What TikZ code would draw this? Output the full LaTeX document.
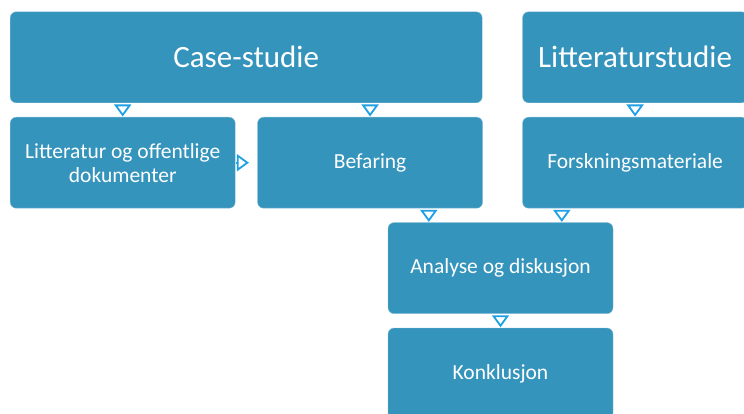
\documentclass[tikz,border=0pt]{standalone}
\usepackage{fontspec}
\setmainfont{Carlito}
\usepackage{tikz}
\usetikzlibrary{arrows.meta,positioning,calc}
\definecolor{Xteal}{RGB}{53,148,188}
\definecolor{Xcyan}{RGB}{30,160,230}
\tikzset{
  flow/.style={-{Triangle[open,length=12pt,width=17pt]}, line width=1.8pt, draw=Xcyan, shorten >=0.5pt, shorten <=2pt},
  stepbox/.style={rounded corners=6pt, fill=Xteal, draw=Xteal!60!white, thin, text=white, align=center,
    minimum width=225pt, minimum height=91pt, inner sep=2pt, font=\fontsize{21.5}{24}\selectfont},
  headbox/.style={stepbox, font=\fontsize{31}{36}\selectfont}
}
\begin{document}
\begin{tikzpicture}[node distance=14pt and 22pt]
  \useasboundingbox (0,0) rectangle (744pt,-414pt);
  \clip (0,0) rectangle (744pt,-414pt);
  % case study branch
  \node[stepbox, anchor=north west] (litt) at (10pt,-117pt) {Litteratur og offentlige\\dokumenter};
  \node[stepbox, right=of litt] (befaring) {Befaring};
  \node[headbox, minimum width=472pt, above=of litt.north west, anchor=south west] (case) {Case-studie};
  % literature branch
  \node[headbox, right=40pt of case] (litst) {Litteraturstudie};
  \node[stepbox, below=of litst] (forsk) {Forskningsmateriale};
  % result
  \node[stepbox, below=of befaring.south east, anchor=north west, xshift=-95pt] (analyse) {Analyse og diskusjon};
  \node[stepbox, below=of analyse] (konkl) {Konklusjon};

  \coordinate (inA) at ([xshift=41pt]analyse.north west);
  \coordinate (inB) at ([xshift=174pt]analyse.north west);
  \coordinate (tipR) at ([xshift=14pt]litt.east);

  \draw[flow] (case.south -| litt.north) -- (litt.north);
  \draw[flow] (case.south -| befaring.north) -- (befaring.north);
  \draw[flow, shorten <=1pt] (litt.east) -- (tipR);
  \draw[flow] (litst) -- (forsk);
  \draw[flow] (inA |- befaring.south) -- (inA);
  \draw[flow] (inB |- forsk.south) -- (inB);
  \draw[flow] (analyse) -- (konkl);
\end{tikzpicture}
\end{document}
